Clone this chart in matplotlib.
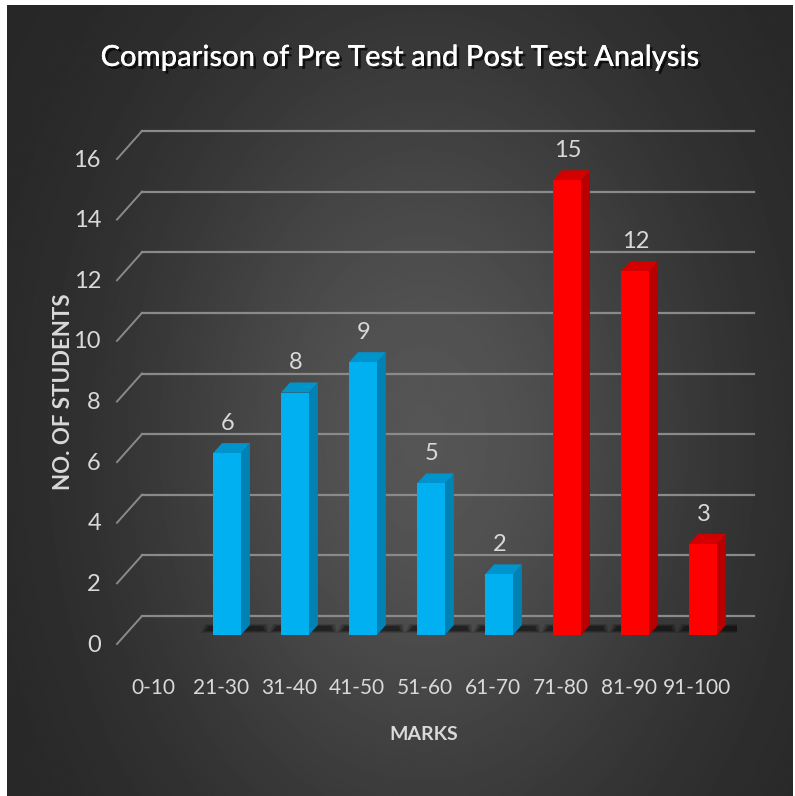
import numpy as np
import matplotlib.pyplot as plt
from matplotlib.patches import Polygon
from matplotlib import patheffects as pe

categories = ['0-10', '21-30', '31-40', '41-50', '51-60', '61-70', '71-80', '81-90', '91-100']
students = [0, 6, 8, 9, 5, 2, 15, 12, 3]
test = ['pre', 'pre', 'pre', 'pre', 'pre', 'pre', 'post', 'post', 'post']
y_ticks = [0, 2, 4, 6, 8, 10, 12, 14, 16]

colors = {'pre': ('#00b0f0', '#0082b4', '#0094cc'),
          'post': ('#ff0000', '#b80000', '#d40000')}   # front, side, top
font = ['Lato', 'DejaVu Sans']
txt_col = '#d9d9d9'

W, H = 795, 796
fig = plt.figure(figsize=(W / 100, H / 100), dpi=100, facecolor='white')

# dark radial background
bg = fig.add_axes([7 / W, 0, 786 / W, 791 / H])
yy, xx = np.mgrid[0:1:400j, 0:1:400j]
d = np.sqrt(((xx - 0.53) / 0.45) ** 2 + ((yy - 0.55) / 0.65) ** 2)
img = 37 + 48 * np.exp(-1.5 * d ** 2)
bg.imshow(img, cmap='gray', vmin=0, vmax=255, aspect='auto', interpolation='bilinear')
bg.axis('off')

ax = fig.add_axes([125 / W, (H - 635) / H, 612 / W, 485 / H])
ax.set_xlim(-0.5, len(categories) - 0.5)
ax.set_ylim(0, 16)
ax.axis('off')
px_x = ax.bbox.width / len(categories)
px_y = ax.bbox.height / 16

# back wall gridlines with slanted left edge
offx, offy = 17 / px_x, 19 / px_y
for v in y_ticks:
    ax.plot([-0.5 + offx, len(categories) - 0.5 + offx], [v + offy, v + offy],
            color='#8a8a8a', lw=1.6, zorder=1, clip_on=False)
    ax.plot([-0.5 + offx, -0.5 - 8 / px_x], [v + offy, v - 9 / px_y],
            color='#8a8a8a', lw=1.4, zorder=1, clip_on=False)
    ax.text(-0.5 - 24 / px_x, v - 10 / px_y, str(v), ha='right', va='center',
            color=txt_col, fontsize=17, family=font)

x = np.arange(len(categories))
w = 0.41
front = [colors[t][0] for t in test]
ax.bar(x, students, width=w, color=front, zorder=4)

ddx, ddy = 9 / px_x, 10 / px_y
for xi, h, t in zip(x, students, test):
    if h <= 0:
        continue
    xl, xr = xi - w / 2, xi + w / 2
    # soft floor shadow
    for k, a in [(0, 0.15), (2, 0.2), (4, 0.3)]:
        ax.add_patch(Polygon([(xl - (12 - k) / px_x, (2 + k / 2) / px_y),
                              (xr + (28 - k) / px_x, (2 + k / 2) / px_y),
                              (xr + (26 - k) / px_x, (11 - k / 2) / px_y),
                              (xl - (8 - k) / px_x, (11 - k / 2) / px_y)],
                             closed=True, color='black', alpha=a, lw=0, zorder=2))
    ax.add_patch(Polygon([(xr, 0), (xr + ddx, ddy), (xr + ddx, h + ddy), (xr, h)],
                         closed=True, color=colors[t][1], lw=0, zorder=3))
    ax.add_patch(Polygon([(xl, h), (xr, h), (xr + ddx, h + ddy), (xl + ddx, h + ddy)],
                         closed=True, color=colors[t][2], lw=0, zorder=3))
    ax.text(xi + 1 / px_x, h + 30 / px_y, str(h), ha='center', va='center',
            color=txt_col, fontsize=17, family=font, zorder=5)

for xi, cat in zip(x, categories):
    ax.text(xi - 6 / px_x, -53 / px_y, cat, ha='center', va='center',
            color=txt_col, fontsize=15, family=font, clip_on=False)

fig.text(400 / W, 1 - 58 / H, 'Comparison of Pre Test and Post Test Analysis',
         ha='center', va='center', color='white', fontsize=21, fontweight='medium', family=font,
         path_effects=[pe.withSimplePatchShadow(offset=(2, -2), shadow_rgbFace='black', alpha=0.7),
                       pe.Normal()])
fig.text(63 / W, 1 - 392 / H, 'NO. OF STUDENTS', rotation=90, ha='center', va='center',
         color=txt_col, fontsize=16, fontweight='bold', family=font)
fig.text(424 / W, 1 - 735 / H, 'MARKS', ha='center', va='center',
         color=txt_col, fontsize=14, fontweight='bold', family=font)

fig.savefig('out.png', dpi=100, facecolor=fig.get_facecolor())
